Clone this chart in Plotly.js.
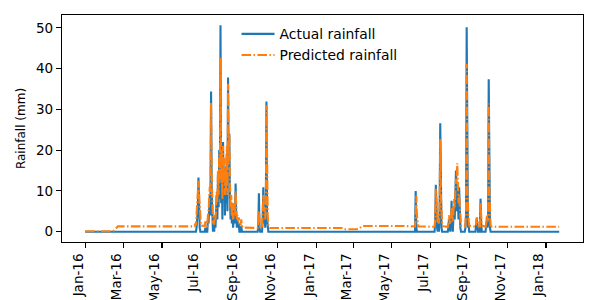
<!DOCTYPE html>
<html>
<head>
<meta charset="utf-8">
<script src="https://cdn.plot.ly/plotly-3.0.1.min.js"></script>
<style>html,body{margin:0;padding:0;background:#fff;}#chart{width:600px;height:300px;}</style>
</head>
<body>
<div id="chart"></div>
<script>
// Actual rainfall (mm), daily observations (zero between listed dates)
const actualDates = [
"2015-12-31","2016-06-24","2016-06-25","2016-06-26","2016-06-27","2016-06-28","2016-06-29","2016-06-30","2016-07-01",
"2016-07-08","2016-07-09","2016-07-10","2016-07-12","2016-07-13","2016-07-14","2016-07-15","2016-07-16","2016-07-17",
"2016-07-18","2016-07-19","2016-07-20","2016-07-21","2016-07-22","2016-07-23","2016-07-24","2016-07-25","2016-07-26",
"2016-07-27","2016-07-28","2016-07-29","2016-07-30","2016-07-31","2016-08-01","2016-08-02","2016-08-03","2016-08-04",
"2016-08-05","2016-08-06","2016-08-07","2016-08-08","2016-08-09","2016-08-10","2016-08-11","2016-08-12","2016-08-13",
"2016-08-14","2016-08-15","2016-08-16","2016-08-17","2016-08-18","2016-08-19","2016-08-20","2016-08-21","2016-08-22",
"2016-08-23","2016-08-24","2016-08-25","2016-08-26","2016-08-27","2016-08-28","2016-08-29","2016-08-30","2016-08-31",
"2016-09-01","2016-09-03","2016-09-04","2016-09-05","2016-09-30","2016-10-01","2016-10-02","2016-10-03","2016-10-04",
"2016-10-07","2016-10-08","2016-10-09","2016-10-10","2016-10-11","2016-10-12","2016-10-13","2016-10-14","2016-10-15",
"2016-10-16","2016-10-17",
"2017-06-07","2017-06-08","2017-06-09","2017-06-10","2017-07-08","2017-07-09","2017-07-10","2017-07-11","2017-07-12",
"2017-07-13","2017-07-14","2017-07-15","2017-07-16","2017-07-17","2017-07-18","2017-07-19","2017-07-20","2017-07-29",
"2017-07-30","2017-07-31","2017-08-01","2017-08-02","2017-08-03","2017-08-04","2017-08-05","2017-08-06","2017-08-07",
"2017-08-08","2017-08-09","2017-08-10","2017-08-11","2017-08-12","2017-08-13","2017-08-14","2017-08-15","2017-08-16",
"2017-08-17","2017-08-18","2017-08-19","2017-08-25","2017-08-26","2017-08-27","2017-08-28","2017-08-29","2017-08-30",
"2017-08-31","2017-09-01","2017-09-11","2017-09-12","2017-09-13","2017-09-14","2017-09-15","2017-09-18","2017-09-19",
"2017-09-20","2017-09-21","2017-09-27","2017-09-28","2017-09-29","2017-09-30","2017-10-01","2017-10-02","2017-10-03",
"2017-10-04","2017-10-05","2018-01-22"
];
const actualValues = [
0,0,1,3,5.5,13.3,3,1,0,
0,1,0,0,3,2,6,9,4,
34.4,10,2,0,1,0,4,1,5,
9,3,14,6,20,8,50.6,7,18,
3,22,10,16,4,13,7,19,5,
37.8,14,24,8,3,7,2,5,1,
3,6,2,11.8,4,1,3,1,2,
0,0,1.5,0,0,1,9.4,1,0,
0,3,10.9,2,4,1,5,31.9,3,
1,0,
0,10,1,0,0,2,11.5,3,1,
0,2,0,4,26.6,5,1,0,0,
1,3,1,0,2,7.6,2,0,4,
6,3,9,15,5,11,8,3,10.9,
4,1,0,0,1,4,50.1,3,1,
2,0,0,1,3.2,2,0,0,8.1,
2,0,0,1,3,1,2,37.4,4,
1,0,0
];

// Predicted rainfall (mm)
const predictedDates = [
"2015-12-31","2016-02-12","2016-02-15","2016-02-18","2016-02-21","2016-06-22","2016-06-23","2016-06-24","2016-06-25",
"2016-06-26","2016-06-27","2016-06-28","2016-06-29","2016-06-30","2016-07-01","2016-07-02","2016-07-08","2016-07-09",
"2016-07-10","2016-07-12","2016-07-13","2016-07-14","2016-07-15","2016-07-16","2016-07-17","2016-07-18","2016-07-19",
"2016-07-20","2016-07-21","2016-07-22","2016-07-23","2016-07-24","2016-07-25","2016-07-26","2016-07-27","2016-07-28",
"2016-07-29","2016-07-30","2016-07-31","2016-08-01","2016-08-02","2016-08-03","2016-08-04","2016-08-05","2016-08-06",
"2016-08-07","2016-08-08","2016-08-09","2016-08-10","2016-08-11","2016-08-12","2016-08-13","2016-08-14","2016-08-15",
"2016-08-16","2016-08-17","2016-08-18","2016-08-19","2016-08-20","2016-08-21","2016-08-22","2016-08-23","2016-08-24",
"2016-08-25","2016-08-26","2016-08-27","2016-08-28","2016-08-29","2016-08-30","2016-08-31","2016-09-01","2016-09-03",
"2016-09-04","2016-09-05","2016-09-07","2016-09-30","2016-10-01","2016-10-02","2016-10-03","2016-10-04","2016-10-07",
"2016-10-08","2016-10-09","2016-10-10","2016-10-11","2016-10-12","2016-10-13","2016-10-14","2016-10-15","2016-10-16",
"2016-10-17","2016-10-19","2017-02-12","2017-02-14","2017-03-09","2017-03-15","2017-05-20","2017-06-05","2017-06-07",
"2017-06-08","2017-06-09","2017-06-10","2017-06-11","2017-06-12","2017-07-08","2017-07-09","2017-07-10","2017-07-11",
"2017-07-12","2017-07-13","2017-07-14","2017-07-15","2017-07-16","2017-07-17","2017-07-18","2017-07-19","2017-07-20",
"2017-07-22","2017-07-29","2017-07-30","2017-07-31","2017-08-01","2017-08-02","2017-08-03","2017-08-04","2017-08-05",
"2017-08-06","2017-08-07","2017-08-08","2017-08-09","2017-08-10","2017-08-11","2017-08-12","2017-08-13","2017-08-14",
"2017-08-15","2017-08-16","2017-08-17","2017-08-18","2017-08-19","2017-08-25","2017-08-26","2017-08-27","2017-08-28",
"2017-08-29","2017-08-30","2017-08-31","2017-09-01","2017-09-11","2017-09-12","2017-09-13","2017-09-14","2017-09-15",
"2017-09-18","2017-09-19","2017-09-20","2017-09-21","2017-09-27","2017-09-28","2017-09-29","2017-09-30","2017-10-01",
"2017-10-02","2017-10-03","2017-10-04","2017-10-05","2017-10-07","2018-01-22"
];
const predictedValues = [
0.1,0.1,0.3,0.8,1.3,1.3,2,1.5,4,
6,11,12.5,9,5,2.5,1.5,1.4,2.5,
1.6,1.4,4,5,8,11,9,31.6,14,
5,2.5,2,1.8,4,3,6,10,7,
15,9,19,13,42.7,12,20,8,21,
14,18,9,15,10,21,9,36.3,17,
24,12,6,9,4,7,3,4,7,
4,10,6,3,4,2.5,3.5,2,1.5,
3,1.5,1,0.9,1.5,5,3,1.2,1,
4,9,5,6,3,7,31,9,4,
1.5,0.9,0.9,0.6,0.6,1.4,1.4,1.2,1.3,
4,8.8,4,2,1.3,1.2,3,10.5,6,
3,2,3,2,6,22.7,9,4,2,
1.3,1.2,2,4,2.5,1.8,3,6,4,
2.5,5,8,6,10,13,12,16.8,12,
7,9,5,2.5,1.5,1.2,2,5,41.2,
10,4,3,1.5,1.2,2,3.5,3,1.5,
1.3,7,4,1.5,1.2,2,4,2.5,3,
31.4,10,3,1.5,1.2,1.2
];

const seriesNames = ["Actual rainfall", "Predicted rainfall"];
const yTitle = "Rainfall (mm)";

const FONT = "DejaVu Sans, sans-serif";

const traces = [
  {x: actualDates, y: actualValues, type: "scatter", mode: "lines", name: seriesNames[0],
   line: {color: "#1f77b4", width: 2.1}, legend: "legend"},
  {x: predictedDates, y: predictedValues, type: "scatter", mode: "lines", name: seriesNames[1],
   line: {color: "#ff7f0e", width: 2.1, dash: "9.6px,2.4px,1.5px,2.4px"}, legend: "legend2"}
];

const legendCommon = {xanchor: "left", yanchor: "middle", bgcolor: "rgba(0,0,0,0)", borderwidth: 0,
  font: {family: FONT, size: 13.9, color: "#000"}, itemwidth: 33};

const layout = {
  width: 600, height: 300,
  margin: {l: 62, r: 17.3, t: 15, b: 58, pad: 0},
  paper_bgcolor: "#fff", plot_bgcolor: "#fff",
  font: {family: FONT, color: "#000"},
  showlegend: true,
  legend: Object.assign({}, legendCommon, {x: 0.335, y: 0.915}),
  legend2: Object.assign({}, legendCommon, {x: 0.335, y: 0.822}),
  xaxis: {
    type: "date",
    range: ["2015-11-24 06:00", "2018-02-28 18:00"],
    tick0: "2016-01-01", dtick: "M2", tickformat: "%b-%y",
    tickangle: -90, ticklabelshift: -7,
    ticks: "outside", ticklen: 5, tickwidth: 1.1, tickcolor: "#000",
    showline: true, linecolor: "#000", linewidth: 1.1, mirror: true,
    showgrid: false, zeroline: false,
    tickfont: {family: FONT, size: 13.5, color: "#000"}
  },
  yaxis: {
    range: [-2.53, 53.13],
    tick0: 0, dtick: 10,
    ticks: "outside", ticklen: 5, tickwidth: 1.1, tickcolor: "#000",
    showline: true, linecolor: "#000", linewidth: 1.1, mirror: true,
    showgrid: false, zeroline: false,
    tickfont: {family: FONT, size: 13.5, color: "#000"},
    title: {text: yTitle, font: {family: FONT, size: 12, color: "#000"}, standoff: 7}
  }
};

Plotly.newPlot("chart", traces, layout, {staticPlot: true, displayModeBar: false});
</script>
</body>
</html>
